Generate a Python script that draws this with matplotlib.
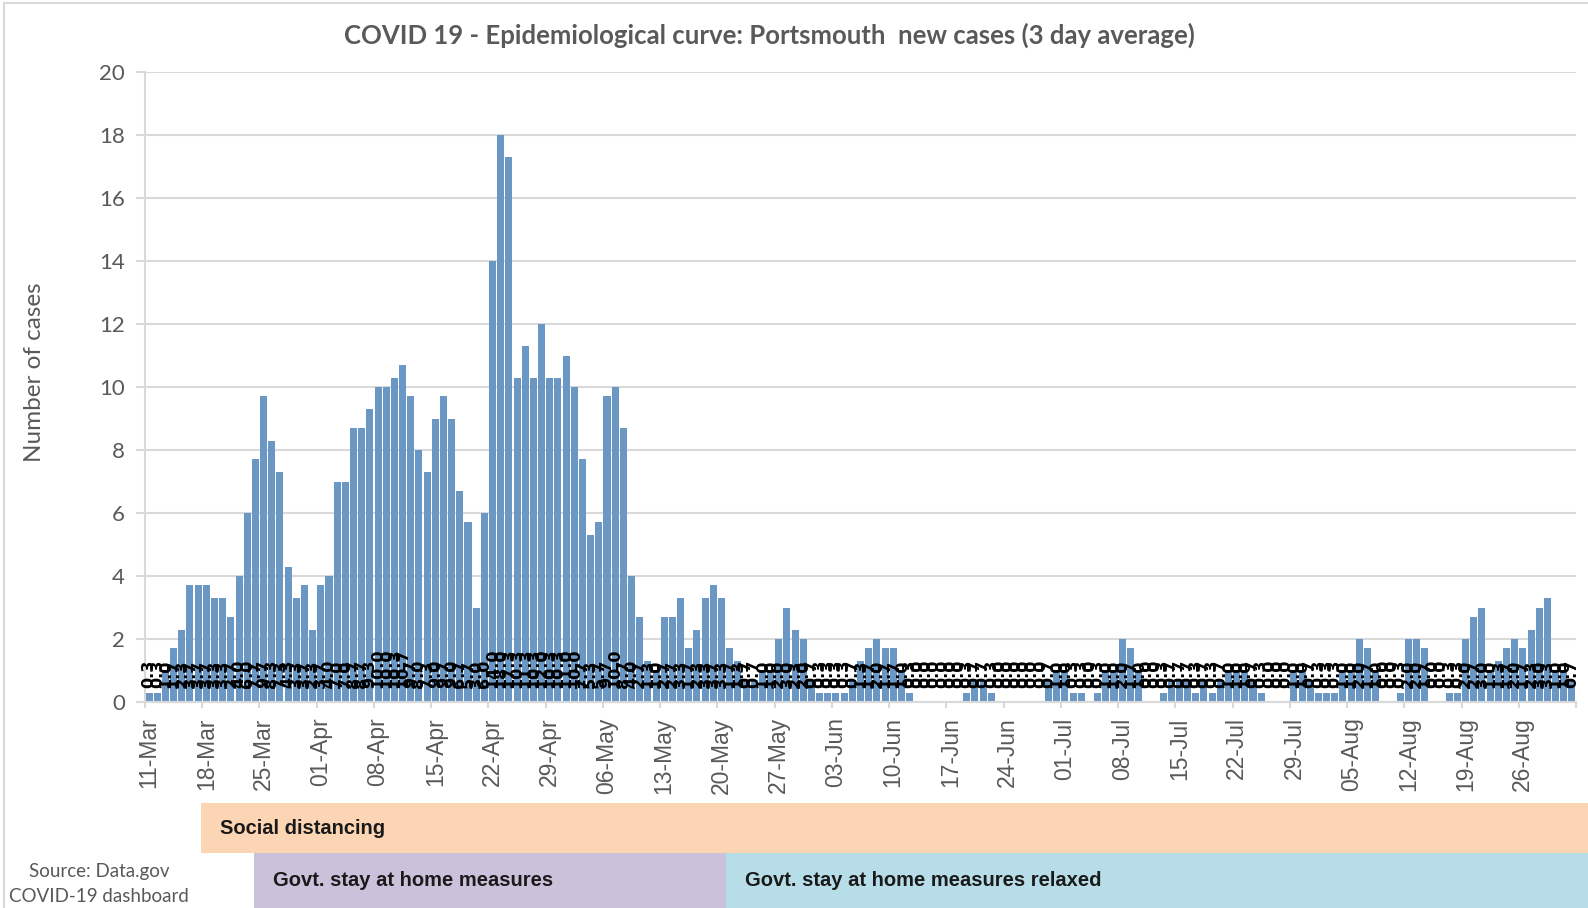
import matplotlib.pyplot as plt
from matplotlib.patches import Rectangle
from matplotlib.lines import Line2D


# 3 day average of new cases, one value per day starting 11-Mar
cases = [
    0.3, 0.3, 1.0, 1.7, 2.3, 3.7, 3.7, 3.7, 3.3, 3.3,
    2.7, 4.0, 6.0, 7.7, 9.7, 8.3, 7.3, 4.3, 3.3, 3.7,
    2.3, 3.7, 4.0, 7.0, 7.0, 8.7, 8.7, 9.3, 10.0, 10.0,
    10.3, 10.7, 9.7, 8.0, 7.3, 9.0, 9.7, 9.0, 6.7, 5.7,
    3.0, 6.0, 14.0, 18.0, 17.3, 10.3, 11.3, 10.3, 12.0, 10.3,
    10.3, 11.0, 10.0, 7.7, 5.3, 5.7, 9.7, 10.0, 8.7, 4.0,
    2.7, 1.3, 1.0, 2.7, 2.7, 3.3, 1.7, 2.3, 3.3, 3.7,
    3.3, 1.7, 1.3, 0.7, 0.7, 1.0, 1.0, 2.0, 3.0, 2.3,
    2.0, 0.7, 0.3, 0.3, 0.3, 0.3, 0.7, 1.3, 1.7, 2.0,
    1.7, 1.7, 1.0, 0.3, 0.0, 0.0, 0.0, 0.0, 0.0, 0.0,
    0.3, 0.7, 0.7, 0.3, 0.0, 0.0, 0.0, 0.0, 0.0, 0.0,
    0.7, 1.0, 1.0, 0.3, 0.3, 0.0, 0.3, 1.0, 1.0, 2.0,
    1.7, 1.0, 0.0, 0.0, 0.3, 0.7, 0.7, 0.7, 0.3, 0.7,
    0.3, 0.7, 1.0, 1.0, 1.0, 0.7, 0.3, 0.0, 0.0, 0.0,
    1.0, 1.0, 0.7, 0.3, 0.3, 0.3, 1.0, 1.0, 2.0, 1.7,
    1.0, 0.0, 0.0, 0.3, 2.0, 2.0, 1.7, 0.0, 0.0, 0.3,
    0.3, 2.0, 2.7, 3.0, 1.0, 1.3, 1.7, 2.0, 1.7, 2.3,
    3.0, 3.3, 1.0, 1.0, 0.7,
]

# one label every 7 days, first one on the first day
tick_labels = [
    "11-Mar", "18-Mar", "25-Mar", "01-Apr", "08-Apr", "15-Apr", "22-Apr",
    "29-Apr", "06-May", "13-May", "20-May", "27-May", "03-Jun", "10-Jun",
    "17-Jun", "24-Jun", "01-Jul", "08-Jul", "15-Jul", "22-Jul", "29-Jul",
    "05-Aug", "12-Aug", "19-Aug", "26-Aug",
]
tick_step = 7

y_ticks = [0, 2, 4, 6, 8, 10, 12, 14, 16, 18, 20]

title = "COVID 19 - Epidemiological curve: Portsmouth  new cases (3 day average)"
source = ["Source: Data.gov", "COVID-19 dashboard"]

GREY_TEXT = "#595959"
GRID = "#D9D9D9"
BAR = "#6B97C4"


def main():
    W, H = 1588, 908
    fig = plt.figure(figsize=(W / 100, H / 100), dpi=100)

    # axes in pixel terms: left 145, right 1576, zero line at 702, 20 at 72
    ax = fig.add_axes([145 / W, 1 - 702 / H, (1576 - 145) / W, (702 - 72) / H])

    x = list(range(len(cases)))
    ax.bar(x, cases, width=0.86, color=BAR, zorder=2)

    # data labels sitting at the bar base (they overlap, as in the original)
    for xi, v in zip(x, cases):
        ax.text(xi, 0.45, f"{v:.1f}", rotation=90, ha="center", va="bottom",
                fontsize=11.5, fontweight="bold", color="black",
                family="DejaVu Sans", zorder=3)

    ax.set_xlim(-0.5, len(cases) - 0.5)
    ax.set_ylim(0, 20)

    styleAxes(ax)

    fig.text(769 / W, 1 - 35 / H, title, ha="center", va="center",
             fontsize=18.5, fontweight="bold", color=GREY_TEXT, family="Lato")
    fig.text(35 / W, 1 - 372 / H, "Number of cases", rotation=90,
             ha="center", va="center", fontsize=17.5, color=GREY_TEXT, family="Lato")

    drawMeasures(fig, W, H)

    for i, line in enumerate(source):
        fig.text(99 / W, 1 - (872 + 25 * i) / H, line, ha="center", va="center",
                 fontsize=13.5, color=GREY_TEXT, family="Lato")

    # thin border of the chart area
    fig.add_artist(Line2D([4 / W, 4 / W], [0, 1 - 3 / H], color=GRID, lw=1.5))
    fig.add_artist(Line2D([4 / W, 1], [1 - 3 / H, 1 - 3 / H], color=GRID, lw=1.5))

    fig.savefig("out.png", dpi=100)


def styleAxes(ax):
    ax.set_yticks(y_ticks)
    ax.set_yticklabels([str(t) for t in y_ticks], fontsize=16,
                       color=GREY_TEXT, family="Lato")
    ax.tick_params(axis="y", length=6.5, width=1.5, color=GRID, pad=8)
    ax.grid(axis="y", color=GRID, lw=1.5, zorder=0)
    ax.set_axisbelow(True)

    pos = list(range(0, len(cases), tick_step))[:len(tick_labels)]
    ax.set_xticks(pos)
    ax.set_xticklabels(tick_labels, rotation=90, fontsize=16.5,
                       color=GREY_TEXT, family="Liberation Sans")
    ax.tick_params(axis="x", length=0, pad=11)
    ax.set_xticks([p - 0.5 for p in pos] + [len(cases) - 0.5], minor=True)
    ax.tick_params(axis="x", which="minor", length=4.5, width=1.5, color=GRID)

    for side in ["top", "right"]:
        ax.spines[side].set_visible(False)
    for side in ["left", "bottom"]:
        ax.spines[side].set_color(GRID)
        ax.spines[side].set_linewidth(1.5)


def drawMeasures(fig, W, H):
    # coloured bands under the chart, given in pixels of the figure
    bands = [
        ("Social distancing", 201, 803, W, 853, "#FCD5B4"),
        ("Govt. stay at home measures", 254, 853, 726, H, "#CCC1DA"),
        ("Govt. stay at home measures relaxed", 726, 853, W, H, "#B7DEE8"),
    ]
    for label, x0, y0, x1, y1, colour in bands:
        fig.add_artist(Rectangle((x0 / W, 1 - y1 / H), (x1 - x0) / W, (y1 - y0) / H,
                                 transform=fig.transFigure, facecolor=colour,
                                 edgecolor="none"))
        fig.text((x0 + 19) / W, 1 - (y0 + y1) / 2 / H, label, ha="left", va="center",
                 fontsize=14.5, fontweight="bold", color="#1a1a1a",
                 family="Liberation Sans")


if __name__ == "__main__":
    main()
